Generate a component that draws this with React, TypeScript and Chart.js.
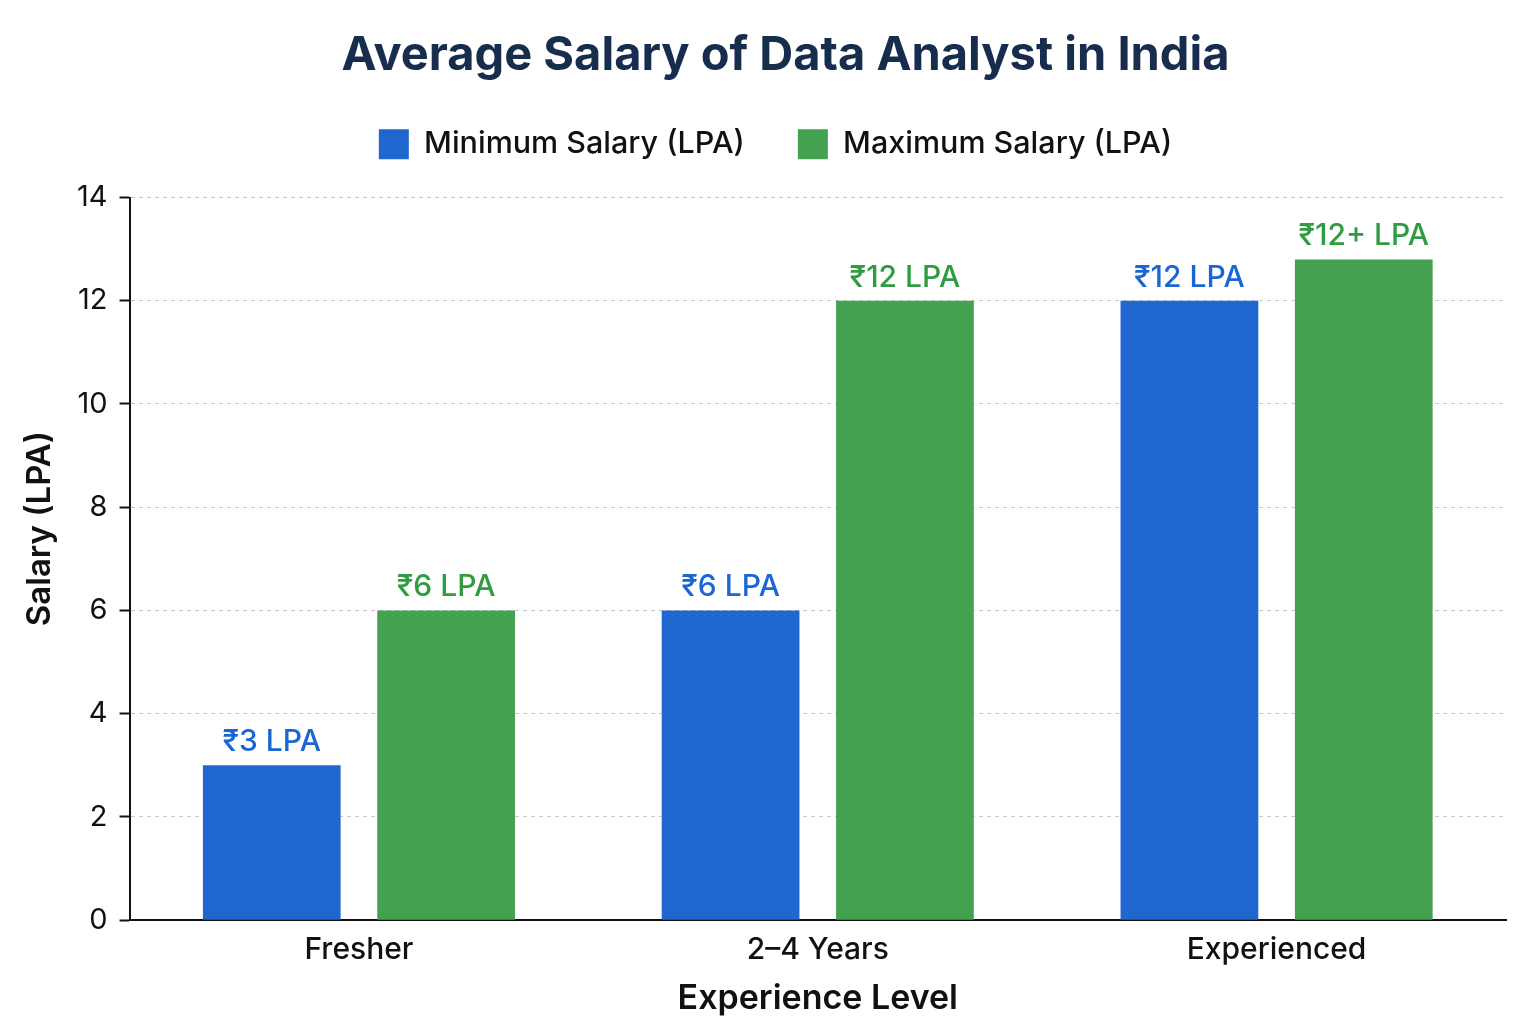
import { useEffect, useRef } from "react";
import { Chart, registerables, Plugin } from "chart.js";

Chart.register(...registerables);

// chart values
const categories = ["Fresher", "2–4 Years", "Experienced"];
const minSalary = [3, 6, 12];
const maxSalary = [6, 12, 12.8];
const minLabels = ["₹3 LPA", "₹6 LPA", "₹12 LPA"];
const maxLabels = ["₹6 LPA", "₹12 LPA", "₹12+ LPA"];
const yAxisTitle = "Salary (LPA)";

const BLUE = "#1f67cf";
const GREEN = "#43a150";
const BLUE_TEXT = "#1a66d2";
const GREEN_TEXT = "#2f9c42";
const FONT = "Inter, 'Noto Sans', sans-serif";

// draws the value text above every bar
const barLabels: Plugin<"bar"> = {
  id: "barLabels",
  afterDatasetsDraw(chart) {
    const ctx = chart.ctx;
    const texts = [minLabels, maxLabels];
    const colors = [BLUE_TEXT, GREEN_TEXT];
    ctx.save();
    ctx.font = `500 30px ${FONT}`;
    ctx.textAlign = "center";
    ctx.textBaseline = "bottom";
    chart.data.datasets.forEach((_, di) => {
      const meta = chart.getDatasetMeta(di);
      ctx.fillStyle = colors[di];
      meta.data.forEach((bar, i) => {
        ctx.fillText(texts[di][i], bar.x, bar.y - 8);
      });
    });
    ctx.restore();
  },
};

// extra room under the legend, and nudge the legend a bit left of centre
const legendGap: Plugin<"bar"> = {
  id: "legendGap",
  beforeInit(chart: any) {
    const fit = chart.legend.fit;
    chart.legend.fit = function () {
      fit.bind(chart.legend)();
      this.height += 28;
    };
  },
  afterLayout(chart: any) {
    chart.legend.left -= 10;
    chart.legend.right -= 10;
  },
};

// y axis title, sitting a little above the middle of the plot
const yTitle: Plugin<"bar"> = {
  id: "yTitle",
  afterDraw(chart) {
    const { ctx, chartArea } = chart;
    ctx.save();
    ctx.translate(40, chartArea.top + (chartArea.bottom - chartArea.top) * 0.458);
    ctx.rotate(-Math.PI / 2);
    ctx.font = `600 33px ${FONT}`;
    ctx.fillStyle = "#111";
    ctx.textAlign = "center";
    ctx.textBaseline = "middle";
    ctx.fillText(yAxisTitle, 0, 0);
    ctx.restore();
  },
};

const SalaryChart = () => {
  const canvasRef = useRef<HTMLCanvasElement | null>(null);

  useEffect(() => {
    document.body.style.margin = "0";
    if (!canvasRef.current) return;
    const chart = new Chart(canvasRef.current, {
      type: "bar",
      data: {
        labels: categories,
        datasets: [
          {
            label: "Minimum Salary (LPA)",
            data: minSalary,
            backgroundColor: BLUE,
            categoryPercentage: 0.76,
            barPercentage: 0.79,
          },
          {
            label: "Maximum Salary (LPA)",
            data: maxSalary,
            backgroundColor: GREEN,
            categoryPercentage: 0.76,
            barPercentage: 0.79,
          },
        ],
      },
      options: {
        animation: false,
        responsive: false,
        layout: { padding: { left: 65, right: 30, top: 32, bottom: 1 } },
        plugins: {
          title: {
            display: true,
            text: "Average Salary of Data Analyst in India",
            color: "#172d4e",
            font: { family: FONT, size: 47, weight: "bold", lineHeight: 1 },
            padding: { top: 0, bottom: -3 },
          },
          legend: {
            labels: {
              boxWidth: 30,
              boxHeight: 30,
              padding: 53,
              color: "#111",
              font: { family: FONT, size: 30.5, weight: 500 },
            },
          },
          tooltip: { enabled: false },
        },
        scales: {
          x: {
            grid: { display: false },
            border: { color: "#111", width: 2 },
            ticks: {
              color: "#111",
              padding: 4,
              font: { family: FONT, size: 30, weight: 500 },
            },
            title: {
              display: true,
              text: "Experience Level",
              color: "#111",
              font: { family: FONT, size: 34, weight: 600 },
              padding: { top: 6 },
            },
          },
          y: {
            min: 0,
            max: 14,
            ticks: {
              stepSize: 2,
              color: "#111",
              padding: 12,
              font: { family: FONT, size: 29 },
            },
            grid: {
              color: "#c8c8c8",
              tickColor: "#111",
              tickLength: 10,
              tickWidth: 2,
            },
            border: { color: "#111", width: 2, dash: [4, 4] },
          },
        },
      },
      plugins: [barLabels, legendGap, yTitle],
    });
    return () => chart.destroy();
  }, []);

  return <canvas ref={canvasRef} width={1536} height={1024} style={{ display: "block" }} />;
};

export default function App() {
  return <SalaryChart />;
}
